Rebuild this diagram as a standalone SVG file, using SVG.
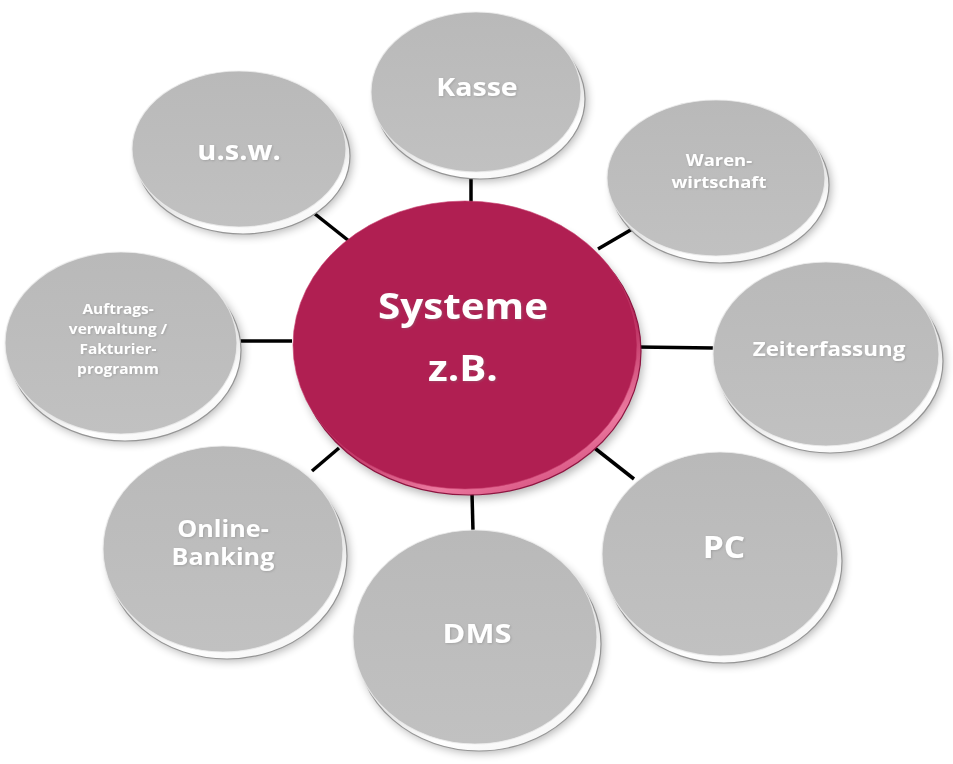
<svg xmlns="http://www.w3.org/2000/svg" width="953" height="764" viewBox="0 0 953 764">
<defs>
  <style>
    .conn { stroke:#000; stroke-width:3.5; fill:none; }
    .shadow { fill:#000; opacity:0.3; filter:url(#blur); }
    .rim { fill:url(#rimG); stroke:#959595; stroke-width:1.2; }
    .face { fill:url(#faceG); stroke:#ececec; stroke-width:1.2; stroke-opacity:0.8; }
    .crim { fill:url(#crimG); stroke:#8e1440; stroke-width:1.2; }
    .cface { fill:#b01f52; stroke:#c8406e; stroke-width:1; stroke-opacity:0.6; }
    .lbl { font-family:"Open Sans","Noto Sans","DejaVu Sans",sans-serif; font-weight:700; fill:#ffffff; text-anchor:middle; filter:url(#tsh); }
  </style>
  <filter id="blur" x="-20%" y="-20%" width="140%" height="140%">
    <feGaussianBlur stdDeviation="5"/>
  </filter>
  <filter id="tsh" x="-10%" y="-30%" width="120%" height="160%">
    <feDropShadow dx="0.8" dy="0.8" stdDeviation="0.8" flood-color="#7a7a7a" flood-opacity="0.45"/>
  </filter>
  <linearGradient id="rimG" x1="0.25" y1="0" x2="0.75" y2="1">
    <stop offset="0" stop-color="#9c9c9c"/>
    <stop offset="0.55" stop-color="#dcdcdc"/>
    <stop offset="0.8" stop-color="#ffffff"/>
    <stop offset="1" stop-color="#f4f4f4"/>
  </linearGradient>
  <linearGradient id="faceG" x1="0" y1="0" x2="0" y2="1">
    <stop offset="0" stop-color="#b9b9b9"/>
    <stop offset="1" stop-color="#c1c1c1"/>
  </linearGradient>
  <linearGradient id="crimG" x1="0.25" y1="0" x2="0.75" y2="1">
    <stop offset="0" stop-color="#7c1036"/>
    <stop offset="0.6" stop-color="#b82a5c"/>
    <stop offset="0.85" stop-color="#ec7aa0"/>
    <stop offset="1" stop-color="#d24a7a"/>
  </linearGradient>
</defs>
<rect width="953" height="764" fill="#ffffff"/>

<g id="connectors">
  <line class="conn" x1="315" y1="214" x2="349" y2="241"/>
  <line class="conn" x1="471" y1="176" x2="471" y2="203"/>
  <line class="conn" x1="598" y1="249" x2="634" y2="228"/>
  <line class="conn" x1="637" y1="347" x2="714" y2="348"/>
  <line class="conn" x1="592" y1="446" x2="634" y2="479"/>
  <line class="conn" x1="472" y1="493" x2="473" y2="531"/>
  <line class="conn" x1="312" y1="471" x2="339" y2="448"/>
  <line class="conn" x1="236" y1="341" x2="292" y2="341"/>
</g>

<g id="node-center">
  <ellipse class="shadow" cx="471" cy="355" rx="172" ry="144"/>
  <ellipse class="crim" cx="469" cy="351" rx="172" ry="144"/>
  <ellipse class="cface" cx="465" cy="345" rx="172" ry="144"/>
  <text class="lbl" transform="translate(463,319) scale(1.12,1)" font-size="36">Systeme</text>
  <text class="lbl" transform="translate(463,381) scale(1.12,1)" font-size="36">z.B.</text>
</g>

<g id="node-kasse">
  <ellipse class="shadow" cx="482" cy="101" rx="105" ry="80"/>
  <ellipse class="rim" cx="480" cy="99" rx="105" ry="80"/>
  <ellipse class="face" cx="476" cy="92" rx="105" ry="80"/>
  <text class="lbl" transform="translate(477,96) scale(1.12,1)" font-size="25.5">Kasse</text>
</g>

<g id="node-usw">
  <ellipse class="shadow" cx="245" cy="158" rx="107" ry="78"/>
  <ellipse class="rim" cx="243" cy="156" rx="107" ry="78"/>
  <ellipse class="face" cx="239" cy="149" rx="107" ry="78"/>
  <text class="lbl" transform="translate(239,160) scale(1.12,1)" font-size="26">u.s.w.</text>
</g>

<g id="node-warenwirtschaft">
  <ellipse class="shadow" cx="722" cy="187" rx="109" ry="78"/>
  <ellipse class="rim" cx="720" cy="185" rx="109" ry="78"/>
  <ellipse class="face" cx="716" cy="178" rx="109" ry="78"/>
  <text class="lbl" transform="translate(719,166) scale(1.12,1)" font-size="16.5">Waren-</text>
  <text class="lbl" transform="translate(719,188) scale(1.12,1)" font-size="16.5">wirtschaft</text>
</g>

<g id="node-zeiterfassung">
  <ellipse class="shadow" cx="832" cy="363" rx="113" ry="92"/>
  <ellipse class="rim" cx="830" cy="361" rx="113" ry="92"/>
  <ellipse class="face" cx="826" cy="354" rx="113" ry="92"/>
  <text class="lbl" transform="translate(829,356) scale(1.12,1)" font-size="20">Zeiterfassung</text>
</g>

<g id="node-pc">
  <ellipse class="shadow" cx="726" cy="563" rx="118" ry="102"/>
  <ellipse class="rim" cx="724" cy="561" rx="118" ry="102"/>
  <ellipse class="face" cx="720" cy="554" rx="118" ry="102"/>
  <text class="lbl" transform="translate(724,558) scale(1.12,1)" font-size="30">PC</text>
</g>

<g id="node-dms">
  <ellipse class="shadow" cx="481" cy="646" rx="122" ry="107"/>
  <ellipse class="rim" cx="479" cy="644" rx="122" ry="107"/>
  <ellipse class="face" cx="475" cy="637" rx="122" ry="107"/>
  <text class="lbl" transform="translate(477,643) scale(1.12,1)" font-size="27.5">DMS</text>
</g>

<g id="node-onlinebanking">
  <ellipse class="shadow" cx="229" cy="558" rx="120" ry="103"/>
  <ellipse class="rim" cx="227" cy="556" rx="120" ry="103"/>
  <ellipse class="face" cx="223" cy="549" rx="120" ry="103"/>
  <text class="lbl" transform="translate(223,537) scale(1.12,1)" font-size="22.5">Online-</text>
  <text class="lbl" transform="translate(223,565) scale(1.12,1)" font-size="22.5">Banking</text>
</g>

<g id="node-auftragsverwaltung">
  <ellipse class="shadow" cx="127" cy="352" rx="116" ry="91"/>
  <ellipse class="rim" cx="125" cy="350" rx="116" ry="91"/>
  <ellipse class="face" cx="121" cy="343" rx="116" ry="91"/>
  <text class="lbl" transform="translate(118,314) scale(1.12,1)" font-size="13.8">Auftrags-</text>
  <text class="lbl" transform="translate(118,334) scale(1.12,1)" font-size="13.8">verwaltung /</text>
  <text class="lbl" transform="translate(118,354) scale(1.12,1)" font-size="13.8">Fakturier-</text>
  <text class="lbl" transform="translate(118,374) scale(1.12,1)" font-size="13.8">programm</text>
</g>
</svg>
